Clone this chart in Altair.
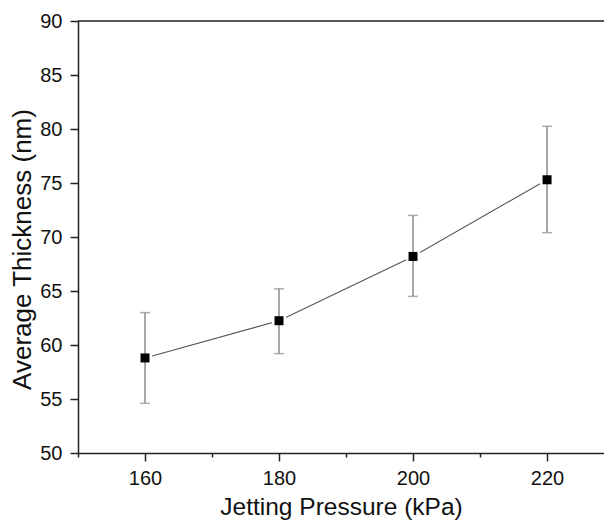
import altair as alt
import pandas as pd

pressure = [160, 180, 200, 220]
thickness = [58.8, 62.25, 68.2, 75.3]
err_low = [54.6, 59.2, 64.5, 70.4]
err_high = [63.0, 65.2, 72.0, 80.25]

df = pd.DataFrame({"p": pressure, "t": thickness, "lo": err_low, "hi": err_high})

FONT = "Liberation Sans"
x_ticks = [150, 160, 170, 180, 190, 200, 210, 220]
y_ticks = [50 + 2.5 * i for i in range(17)]

xscale = alt.Scale(domain=[150, 228.5], nice=False, zero=False)
yscale = alt.Scale(domain=[50, 90], nice=False, zero=False)

xaxis = alt.Axis(
    title="Jetting Pressure (kPa)", values=x_ticks, grid=False,
    labelExpr="datum.value % 20 == 0 ? datum.label : ''",
    tickSize={"condition": {"test": "datum.value % 20 == 0", "value": 8}, "value": 4},
    labelFontSize=20, labelFont=FONT, labelColor="#111", labelPadding=7,
    titleFontSize=24.5, titleFont=FONT, titleFontWeight="normal", titleColor="#111",
    titleBaseline="alphabetic", titleY=61.5,
    domainColor="#222", domainWidth=1.5, tickColor="#222", tickWidth=1.5,
    labelFlush=False, labelOverlap=False,
)
yaxis = alt.Axis(
    title="Average Thickness (nm)", values=y_ticks, grid=False,
    labelExpr="datum.value % 5 == 0 ? datum.label : ''",
    tickSize={"condition": {"test": "datum.value % 5 == 0", "value": 8}, "value": 4},
    labelFontSize=20, labelFont=FONT, labelColor="#111", labelPadding=8,
    titleFontSize=26, titleFont=FONT, titleFontWeight="normal", titleColor="#111",
    titleAngle=270, titleBaseline="middle", titleAlign="center", titleX=-56, titleY=228,
    domainColor="#222", domainWidth=1.5, tickColor="#222", tickWidth=1.5,
    labelFlush=False, labelOverlap=False,
)

base = alt.Chart(df)

line = base.mark_line(color="#555555", strokeWidth=1.1).encode(
    x=alt.X("p:Q", scale=xscale, axis=xaxis),
    y=alt.Y("t:Q", scale=yscale, axis=yaxis),
)
halo = base.mark_point(shape="square", filled=True, color="white", size=200, opacity=1).encode(
    x="p:Q", y="t:Q"
)
bars = base.mark_rule(color="#8c8c8c", strokeWidth=1.5).encode(
    x="p:Q", y="lo:Q", y2="hi:Q"
)
cap_lo = base.mark_tick(orient="horizontal", color="#8c8c8c", size=10, thickness=1.5).encode(
    x="p:Q", y="lo:Q"
)
cap_hi = base.mark_tick(orient="horizontal", color="#8c8c8c", size=10, thickness=1.5).encode(
    x="p:Q", y="hi:Q"
)
pts = base.mark_point(shape="square", filled=True, color="black", size=81, opacity=1).encode(
    x="p:Q", y="t:Q"
)
top = alt.Chart(pd.DataFrame({"v": [90]})).mark_rule(color="#222", strokeWidth=1.5).encode(
    y=alt.Y("v:Q", scale=yscale)
)

chart = alt.layer(line, halo, bars, cap_lo, cap_hi, pts, top).properties(
    width=526, height=432,
    autosize=alt.AutoSizeParams(type="none"),
    padding={"left": 70, "top": 13, "right": 0, "bottom": 67},
).configure_view(stroke=None).configure(background="white")

chart.save("out.html", embed_options={"renderer": "svg", "actions": False})
